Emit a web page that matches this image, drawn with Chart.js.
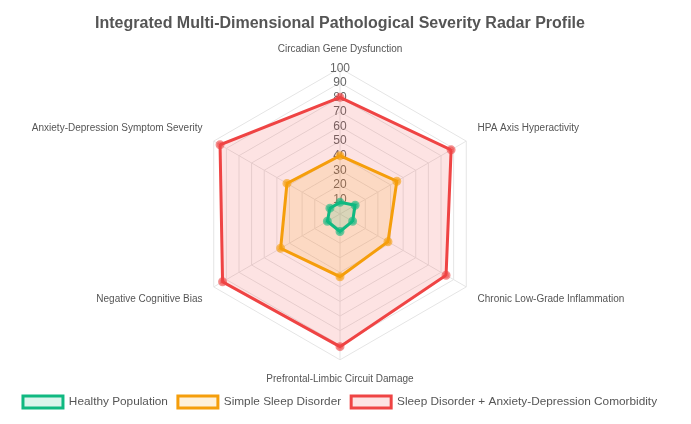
<!DOCTYPE html>
<html>
<head>
<meta charset="utf-8">
<script src="https://cdn.jsdelivr.net/npm/chart.js@4.4.0/dist/chart.umd.min.js"></script>
<style>
html,body{margin:0;padding:0;background:#fff;}
#wrap{width:680px;height:424px;}
</style>
</head>
<body>
<div id="wrap"><canvas id="c"></canvas></div>
<script>
const categories = ["Circadian Gene Dysfunction","HPA Axis Hyperactivity","Chronic Low-Grade Inflammation","Prefrontal-Limbic Circuit Damage","Negative Cognitive Bias","Anxiety-Depression Symptom Severity"];
const healthy = [8, 12, 10, 12, 10, 8];
const sleepOnly = [40, 45, 38, 43, 47, 42];
const comorbid = [80, 88, 84, 91, 93, 95];
const seriesNames = ["Healthy Population","Simple Sleep Disorder","Sleep Disorder + Anxiety-Depression Comorbidity"];
const tickValues = [0,10,20,30,40,50,60,70,80,90,100];

Chart.defaults.font.family = "'Liberation Sans', Arial, Helvetica, sans-serif";
new Chart(document.getElementById('c'), {
  type: 'radar',
  data: {
    labels: categories,
    datasets: [
      {label: seriesNames[0], data: healthy, borderColor: '#10b981', backgroundColor: 'rgba(16,185,129,0.15)', pointBackgroundColor: 'rgba(16,185,129,0.4)', pointBorderColor: 'rgba(16,185,129,0.6)', borderWidth: 3, pointRadius: 3},
      {label: seriesNames[1], data: sleepOnly, borderColor: '#f59e0b', backgroundColor: 'rgba(245,158,11,0.15)', pointBackgroundColor: 'rgba(245,158,11,0.4)', pointBorderColor: 'rgba(245,158,11,0.6)', borderWidth: 3, pointRadius: 3},
      {label: seriesNames[2], data: comorbid, borderColor: '#ef4444', backgroundColor: 'rgba(239,68,68,0.15)', pointBackgroundColor: 'rgba(239,68,68,0.4)', pointBorderColor: 'rgba(239,68,68,0.6)', borderWidth: 3, pointRadius: 3}
    ]
  },
  options: {
    responsive: true,
    maintainAspectRatio: false,
    animation: false,
    layout: {padding: {top: 4, bottom: 6}},
    plugins: {
      title: {display: true, text: 'Integrated Multi-Dimensional Pathological Severity Radar Profile', color: '#555', font: {size: 16, weight: 'bold'}, padding: {top: 10, bottom: 10}},
      legend: {position: 'bottom', labels: {color: '#555', font: {size: 11.8}, boxWidth: 40, boxHeight: 12, padding: 10}}
    },
    scales: {
      r: {
        min: 0, max: 100,
        afterBuildTicks: (s) => { s.ticks = tickValues.map(v => ({value: v})); },
        ticks: {stepSize: 10, color: '#666', font: {size: 12}, showLabelBackdrop: false},
        grid: {color: '#e5e5e5'},
        angleLines: {color: '#e5e5e5'},
        pointLabels: {color: '#555', font: {size: 10}}
      }
    }
  }
});
</script>
</body>
</html>
